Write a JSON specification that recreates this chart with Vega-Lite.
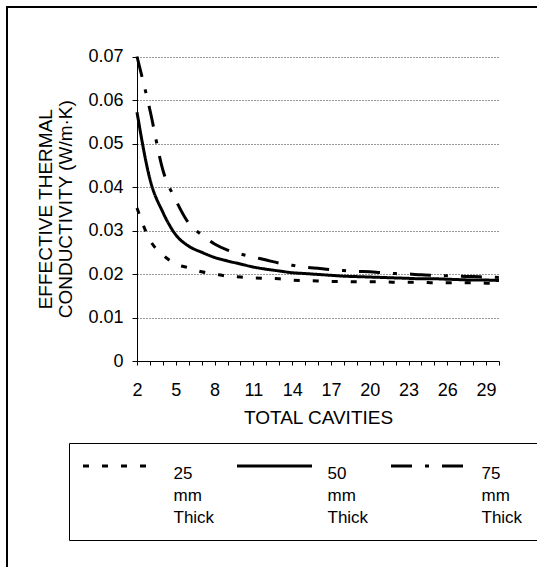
{
  "$schema": "https://vega.github.io/schema/vega-lite/v6.json",
  "autosize": {"type": "none"},
  "width": 540,
  "height": 570,
  "padding": {"left": 7, "top": 7, "right": -10, "bottom": -10},
  "background": "white",
  "config": {
    "font": "Liberation Sans",
    "view": {"stroke": "black", "strokeWidth": 2},
    "axis": {
      "domainColor": "black",
      "tickColor": "black",
      "labelColor": "black",
      "titleColor": "black",
      "titleFontWeight": "normal",
      "labelFontSize": 18,
      "titleFontSize": 19
    }
  },
  "data": {
    "values": [
      {"n": 2, "thickness": "25 mm Thick", "k": 0.0352},
      {"n": 3, "thickness": "25 mm Thick", "k": 0.0278},
      {"n": 4, "thickness": "25 mm Thick", "k": 0.0244},
      {"n": 5, "thickness": "25 mm Thick", "k": 0.0223},
      {"n": 6, "thickness": "25 mm Thick", "k": 0.0214},
      {"n": 7, "thickness": "25 mm Thick", "k": 0.0205},
      {"n": 8, "thickness": "25 mm Thick", "k": 0.0200},
      {"n": 9, "thickness": "25 mm Thick", "k": 0.0195},
      {"n": 10, "thickness": "25 mm Thick", "k": 0.0193},
      {"n": 11, "thickness": "25 mm Thick", "k": 0.0191},
      {"n": 12, "thickness": "25 mm Thick", "k": 0.0190},
      {"n": 13, "thickness": "25 mm Thick", "k": 0.0189},
      {"n": 14, "thickness": "25 mm Thick", "k": 0.0186},
      {"n": 15, "thickness": "25 mm Thick", "k": 0.0185},
      {"n": 16, "thickness": "25 mm Thick", "k": 0.0184},
      {"n": 17, "thickness": "25 mm Thick", "k": 0.0183},
      {"n": 18, "thickness": "25 mm Thick", "k": 0.0183},
      {"n": 19, "thickness": "25 mm Thick", "k": 0.0182},
      {"n": 20, "thickness": "25 mm Thick", "k": 0.0182},
      {"n": 21, "thickness": "25 mm Thick", "k": 0.0182},
      {"n": 22, "thickness": "25 mm Thick", "k": 0.0181},
      {"n": 23, "thickness": "25 mm Thick", "k": 0.0181},
      {"n": 24, "thickness": "25 mm Thick", "k": 0.0181},
      {"n": 25, "thickness": "25 mm Thick", "k": 0.0180},
      {"n": 26, "thickness": "25 mm Thick", "k": 0.0180},
      {"n": 27, "thickness": "25 mm Thick", "k": 0.0180},
      {"n": 28, "thickness": "25 mm Thick", "k": 0.0180},
      {"n": 29, "thickness": "25 mm Thick", "k": 0.0179},
      {"n": 30, "thickness": "25 mm Thick", "k": 0.0179},
      {"n": 2, "thickness": "50 mm Thick", "k": 0.0572},
      {"n": 3, "thickness": "50 mm Thick", "k": 0.0418},
      {"n": 4, "thickness": "50 mm Thick", "k": 0.0342},
      {"n": 5, "thickness": "50 mm Thick", "k": 0.0290},
      {"n": 6, "thickness": "50 mm Thick", "k": 0.0264},
      {"n": 7, "thickness": "50 mm Thick", "k": 0.0250},
      {"n": 8, "thickness": "50 mm Thick", "k": 0.0238},
      {"n": 9, "thickness": "50 mm Thick", "k": 0.0230},
      {"n": 10, "thickness": "50 mm Thick", "k": 0.0223},
      {"n": 11, "thickness": "50 mm Thick", "k": 0.0216},
      {"n": 12, "thickness": "50 mm Thick", "k": 0.0211},
      {"n": 13, "thickness": "50 mm Thick", "k": 0.0207},
      {"n": 14, "thickness": "50 mm Thick", "k": 0.0203},
      {"n": 15, "thickness": "50 mm Thick", "k": 0.0201},
      {"n": 16, "thickness": "50 mm Thick", "k": 0.0199},
      {"n": 17, "thickness": "50 mm Thick", "k": 0.0197},
      {"n": 18, "thickness": "50 mm Thick", "k": 0.0195},
      {"n": 19, "thickness": "50 mm Thick", "k": 0.0194},
      {"n": 20, "thickness": "50 mm Thick", "k": 0.0193},
      {"n": 21, "thickness": "50 mm Thick", "k": 0.0192},
      {"n": 22, "thickness": "50 mm Thick", "k": 0.0191},
      {"n": 23, "thickness": "50 mm Thick", "k": 0.0190},
      {"n": 24, "thickness": "50 mm Thick", "k": 0.0189},
      {"n": 25, "thickness": "50 mm Thick", "k": 0.0189},
      {"n": 26, "thickness": "50 mm Thick", "k": 0.0188},
      {"n": 27, "thickness": "50 mm Thick", "k": 0.0187},
      {"n": 28, "thickness": "50 mm Thick", "k": 0.0186},
      {"n": 29, "thickness": "50 mm Thick", "k": 0.0186},
      {"n": 30, "thickness": "50 mm Thick", "k": 0.0185},
      {"n": 2, "thickness": "75 mm Thick", "k": 0.0800},
      {"n": 3, "thickness": "75 mm Thick", "k": 0.0577},
      {"n": 4, "thickness": "75 mm Thick", "k": 0.0439},
      {"n": 5, "thickness": "75 mm Thick", "k": 0.0370},
      {"n": 6, "thickness": "75 mm Thick", "k": 0.0317},
      {"n": 7, "thickness": "75 mm Thick", "k": 0.0290},
      {"n": 8, "thickness": "75 mm Thick", "k": 0.0269},
      {"n": 9, "thickness": "75 mm Thick", "k": 0.0255},
      {"n": 10, "thickness": "75 mm Thick", "k": 0.0246},
      {"n": 11, "thickness": "75 mm Thick", "k": 0.0239},
      {"n": 12, "thickness": "75 mm Thick", "k": 0.0232},
      {"n": 13, "thickness": "75 mm Thick", "k": 0.0225},
      {"n": 14, "thickness": "75 mm Thick", "k": 0.0220},
      {"n": 15, "thickness": "75 mm Thick", "k": 0.0216},
      {"n": 16, "thickness": "75 mm Thick", "k": 0.0213},
      {"n": 17, "thickness": "75 mm Thick", "k": 0.0210},
      {"n": 18, "thickness": "75 mm Thick", "k": 0.0208},
      {"n": 19, "thickness": "75 mm Thick", "k": 0.0206},
      {"n": 20, "thickness": "75 mm Thick", "k": 0.0205},
      {"n": 21, "thickness": "75 mm Thick", "k": 0.0203},
      {"n": 22, "thickness": "75 mm Thick", "k": 0.0201},
      {"n": 23, "thickness": "75 mm Thick", "k": 0.0200},
      {"n": 24, "thickness": "75 mm Thick", "k": 0.0198},
      {"n": 25, "thickness": "75 mm Thick", "k": 0.0197},
      {"n": 26, "thickness": "75 mm Thick", "k": 0.0196},
      {"n": 27, "thickness": "75 mm Thick", "k": 0.0195},
      {"n": 28, "thickness": "75 mm Thick", "k": 0.0194},
      {"n": 29, "thickness": "75 mm Thick", "k": 0.0193},
      {"n": 30, "thickness": "75 mm Thick", "k": 0.0192}
    ]
  },
  "mark": {"type": "line", "color": "black", "strokeWidth": 3, "interpolate": "monotone", "strokeCap": "butt"},
  "encoding": {
    "x": {
      "field": "n",
      "type": "quantitative",
      "scale": {"domain": [2, 30], "nice": false, "zero": false, "range": [130, 492]},
      "axis": {
        "title": "TOTAL CAVITIES",
        "offset": -216,
        "grid": false,
        "values": [2,3,4,5,6,7,8,9,10,11,12,13,14,15,16,17,18,19,20,21,22,23,24,25,26,27,28,29,30],
        "labelExpr": "(datum.value - 2) % 3 == 0 ? datum.label : ''",
        "tickSize": 4,
        "labelPadding": 16,
        "titlePadding": 9,
        "labelFlush": false,
        "labelOverlap": false
      }
    },
    "y": {
      "field": "k",
      "type": "quantitative",
      "scale": {"domain": [0, 0.07], "nice": false, "clamp": true, "range": [354, 49.5]},
      "axis": {
        "title": ["EFFECTIVE THERMAL", "CONDUCTIVITY (W/m·K)"],
        "offset": -130,
        "values": [0, 0.01, 0.02, 0.03, 0.04, 0.05, 0.06, 0.07],
        "format": ".2~f",
        "grid": true,
        "gridDash": [1, 2],
        "gridColor": "#333",
        "gridWidth": 1,
        "gridOpacity": 1,
        "tickSize": 5,
        "labelPadding": 9,
        "titlePadding": 12,
        "titleLineHeight": 20,
        "labelFlush": false
      }
    },
    "strokeDash": {
      "field": "thickness",
      "type": "nominal",
      "scale": {
        "domain": ["25 mm Thick", "50 mm Thick", "75 mm Thick"],
        "range": [[6, 13], [1, 0], [21, 13, 4, 13]]
      },
      "legend": {
        "title": null,
        "orient": "none",
        "legendX": 62,
        "legendY": 436,
        "direction": "horizontal",
        "columns": 3,
        "strokeColor": "black",
        "padding": 14,
        "symbolType": "M-5,0L5,0",
        "symbolSize": 225,
        "symbolStrokeWidth": 3,
        "symbolStrokeColor": "black",
        "symbolFillColor": "transparent",
        "symbolOffset": 28.5,
        "labelOffset": 44,
        "columnPadding": 16,
        "labelFontSize": 17,
        "labelColor": "black",
        "labelBaseline": "top",
        "labelExpr": "split(datum.label, ' ')",
        "labelLimit": 0,
        "encode": {"labels": {"update": {"lineHeight": {"value": 22}}}}
      }
    }
  }
}
